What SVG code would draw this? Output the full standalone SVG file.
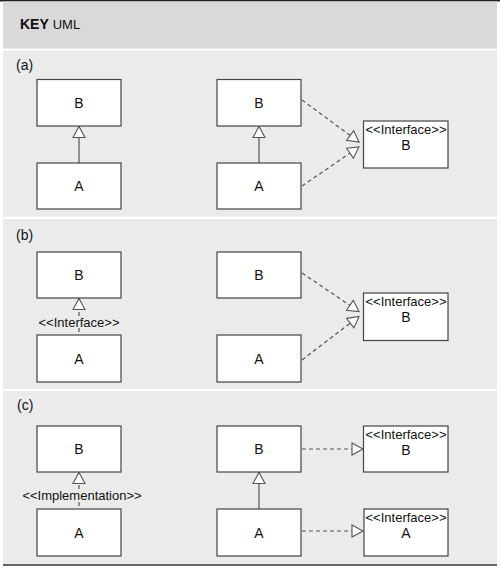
<svg xmlns="http://www.w3.org/2000/svg" width="500" height="568" viewBox="0 0 500 568">
<style>
text{font-family:"Liberation Sans",Arial,sans-serif;fill:#111}
.box{fill:#fff;stroke:#444;stroke-width:1.2}
.lbl{font-size:14px;text-anchor:middle}
.st{font-size:13px;text-anchor:middle}
.sec{font-size:14px}
.solid{stroke:#555;stroke-width:1.2;fill:none}
.dash{stroke:#555;stroke-width:1.2;fill:none;stroke-dasharray:4 3}
</style>
<defs>
<marker id="tri" markerUnits="userSpaceOnUse" markerWidth="14" markerHeight="14" refX="11" refY="6" orient="auto" viewBox="-1 -1 14 14">
<path d="M0,0 L11,6 L0,12 Z" fill="#fff" stroke="#555" stroke-width="1.1"/>
</marker>
</defs>
<rect x="0" y="0" width="500" height="568" fill="#fff"/>
<rect x="0" y="0" width="500" height="1.5" fill="#222"/>
<rect x="3" y="1.5" width="494" height="47" fill="#d9d9d9"/>
<rect x="3" y="50.5" width="494" height="166" fill="#ebebeb"/>
<rect x="3" y="219" width="494" height="170" fill="#ebebeb"/>
<rect x="3" y="391" width="494" height="173" fill="#ebebeb"/>
<rect x="3" y="564" width="494" height="2" fill="#666"/>
<text x="20" y="29" font-size="14"><tspan font-weight="bold">KEY</tspan> <tspan font-size="13">UML</tspan></text>
<text class="sec" x="16" y="70">(a)</text>
<text class="sec" x="16" y="240">(b)</text>
<text class="sec" x="17" y="410">(c)</text>

<g id="connectors">
<line class="solid" x1="79" y1="163" x2="79" y2="126.5" marker-end="url(#tri)"/>
<line class="solid" x1="259" y1="163" x2="259" y2="126.5" marker-end="url(#tri)"/>
<line class="dash" x1="302" y1="100" x2="359" y2="142" marker-end="url(#tri)"/>
<line class="dash" x1="302" y1="186" x2="359" y2="147" marker-end="url(#tri)"/>
<line class="dash" x1="79" y1="316" x2="79" y2="298.5" marker-end="url(#tri)"/>
<line class="dash" x1="79" y1="328" x2="79" y2="335"/>
<text class="st" x="79" y="327">&lt;&lt;Interface&gt;&gt;</text>
<line class="dash" x1="302" y1="273" x2="359" y2="311.5" marker-end="url(#tri)"/>
<line class="dash" x1="302" y1="360" x2="359" y2="316.5" marker-end="url(#tri)"/>
<line class="dash" x1="79" y1="489" x2="79" y2="472.5" marker-end="url(#tri)"/>
<line class="dash" x1="79" y1="502" x2="79" y2="509"/>
<text class="st" x="82" y="500">&lt;&lt;Implementation&gt;&gt;</text>
<line class="solid" x1="259" y1="509" x2="259" y2="472.5" marker-end="url(#tri)"/>
<line class="dash" x1="302" y1="449" x2="363" y2="449" marker-end="url(#tri)"/>
<line class="dash" x1="302" y1="531" x2="363" y2="531" marker-end="url(#tri)"/>
</g>

<g id="a-left-B"><rect class="box" x="37" y="79.5" width="84" height="46.5"/><text class="lbl" x="79" y="108">B</text></g>
<g id="a-left-A"><rect class="box" x="37" y="163" width="84" height="46"/><text class="lbl" x="79" y="191">A</text></g>
<g id="a-right-B"><rect class="box" x="217" y="79.5" width="84" height="46.5"/><text class="lbl" x="259" y="108">B</text></g>
<g id="a-right-A"><rect class="box" x="217" y="163" width="84" height="46"/><text class="lbl" x="259" y="191">A</text></g>
<g id="a-iface-B"><rect class="box" x="363.5" y="121" width="84.5" height="47"/><text class="st" x="406" y="134">&lt;&lt;Interface&gt;&gt;</text><text class="lbl" x="406" y="150">B</text></g>

<g id="b-left-B"><rect class="box" x="37" y="252" width="84" height="46"/><text class="lbl" x="79" y="280">B</text></g>
<g id="b-left-A"><rect class="box" x="37" y="335" width="84" height="47"/><text class="lbl" x="79" y="364">A</text></g>
<g id="b-right-B"><rect class="box" x="217" y="252" width="84" height="46"/><text class="lbl" x="259" y="280">B</text></g>
<g id="b-right-A"><rect class="box" x="217" y="335" width="84" height="47"/><text class="lbl" x="259" y="364">A</text></g>
<g id="b-iface-B"><rect class="box" x="363.5" y="293" width="84.5" height="47.5"/><text class="st" x="406" y="306">&lt;&lt;Interface&gt;&gt;</text><text class="lbl" x="406" y="322">B</text></g>

<g id="c-left-B"><rect class="box" x="37" y="426" width="84" height="46"/><text class="lbl" x="79" y="454">B</text></g>
<g id="c-left-A"><rect class="box" x="37" y="509" width="84" height="47"/><text class="lbl" x="79" y="538">A</text></g>
<g id="c-right-B"><rect class="box" x="217" y="426" width="84" height="46"/><text class="lbl" x="259" y="454">B</text></g>
<g id="c-right-A"><rect class="box" x="217" y="509" width="84" height="47"/><text class="lbl" x="259" y="538">A</text></g>
<g id="c-iface-B"><rect class="box" x="363.5" y="426" width="84.5" height="46"/><text class="st" x="406" y="439">&lt;&lt;Interface&gt;&gt;</text><text class="lbl" x="406" y="455">B</text></g>
<g id="c-iface-A"><rect class="box" x="364" y="509" width="84" height="47"/><text class="st" x="406" y="522">&lt;&lt;Interface&gt;&gt;</text><text class="lbl" x="406" y="538">A</text></g>
</svg>
